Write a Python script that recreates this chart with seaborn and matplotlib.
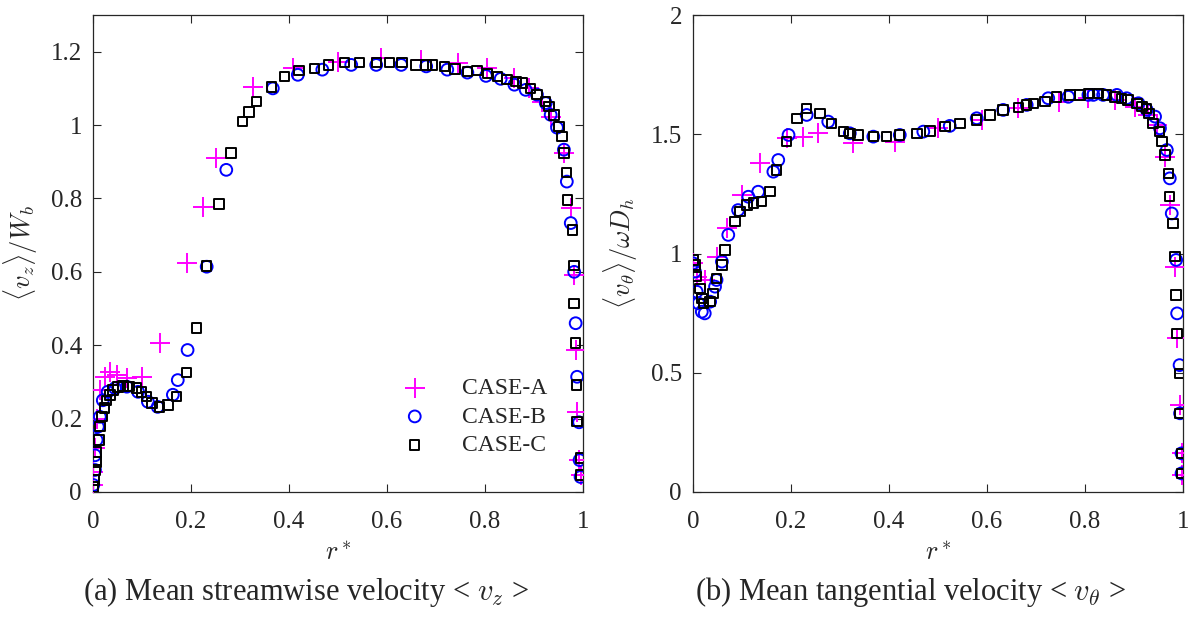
import numpy as np
import pandas as pd
import matplotlib
matplotlib.use('Agg')
import matplotlib.pyplot as plt
import seaborn as sns
from matplotlib.ticker import FuncFormatter

# ── data ──────────────────────────────────────────────────
cases = ['CASE-A', 'CASE-B', 'CASE-C']

# (a) streamwise velocity <v_z>/W_b
ra_z = [0.0, 0.0, 0.004, 0.0075, 0.014, 0.024, 0.035, 0.048, 0.069, 0.099, 0.137, 0.191, 0.225,
        0.252, 0.326, 0.408, 0.50, 0.588, 0.669, 0.744, 0.805, 0.86, 0.89, 0.917, 0.935, 0.961,
        0.975, 0.982, 0.985, 0.988, 0.992, 0.995]
va_z = [0.019, 0.055, 0.12, 0.20, 0.278, 0.314, 0.327, 0.319, 0.31, 0.314, 0.406, 0.624, 0.778,
        0.91, 1.104, 1.156, 1.173, 1.183, 1.178, 1.17, 1.156, 1.128, 1.10, 1.064, 1.023, 0.924,
        0.774, 0.592, 0.387, 0.218, 0.087, 0.046]

rb_z = [0.0006, 0.004, 0.004, 0.0075, 0.01, 0.014, 0.02, 0.03, 0.045, 0.069, 0.092, 0.112, 0.132,
        0.163, 0.173, 0.193, 0.232, 0.272, 0.367, 0.418, 0.468, 0.527, 0.578, 0.629, 0.68, 0.723,
        0.764, 0.802, 0.832, 0.86, 0.883, 0.906, 0.924, 0.934, 0.947, 0.961, 0.967, 0.975, 0.982,
        0.985, 0.988, 0.992, 0.993, 0.995]
vb_z = [0.019, 0.06, 0.10, 0.142, 0.178, 0.205, 0.25, 0.273, 0.283, 0.287, 0.273, 0.246, 0.232,
        0.265, 0.305, 0.387, 0.614, 0.878, 1.10, 1.137, 1.151, 1.164, 1.164, 1.164, 1.16, 1.151,
        1.143, 1.134, 1.126, 1.11, 1.096, 1.083, 1.06, 1.028, 0.993, 0.933, 0.846, 0.733, 0.60,
        0.46, 0.314, 0.19, 0.087, 0.041]

rc_z = [0.0, 0.002, 0.004, 0.006, 0.0075, 0.012, 0.014, 0.018, 0.024, 0.028, 0.035, 0.041, 0.051,
        0.061, 0.075, 0.089, 0.099, 0.109, 0.12, 0.136, 0.153, 0.17, 0.191, 0.211, 0.232, 0.257,
        0.282, 0.305, 0.318, 0.334, 0.364, 0.391, 0.42, 0.452, 0.481, 0.513, 0.544, 0.578, 0.605,
        0.631, 0.659, 0.68, 0.693, 0.717, 0.739, 0.764, 0.784, 0.805, 0.825, 0.845, 0.863, 0.876,
        0.893, 0.906, 0.924, 0.931, 0.941, 0.951, 0.957, 0.961, 0.966, 0.968, 0.978, 0.982, 0.982,
        0.985, 0.987, 0.988, 0.995, 0.995]
vc_z = [0.014, 0.033, 0.06, 0.082, 0.109, 0.142, 0.178, 0.205, 0.229, 0.25, 0.264, 0.278, 0.286,
        0.289, 0.287, 0.283, 0.273, 0.26, 0.243, 0.232, 0.237, 0.26, 0.325, 0.447, 0.616, 0.785,
        0.924, 1.009, 1.036, 1.064, 1.104, 1.132, 1.148, 1.154, 1.164, 1.17, 1.17, 1.17, 1.171,
        1.171, 1.164, 1.164, 1.164, 1.16, 1.153, 1.146, 1.149, 1.14, 1.133, 1.124, 1.119, 1.115,
        1.10, 1.083, 1.064, 1.051, 1.028, 0.996, 0.969, 0.924, 0.87, 0.796, 0.714, 0.617, 0.513,
        0.406, 0.292, 0.192, 0.093, 0.046]

# (b) tangential velocity <v_theta>/(omega D_h)
ra_t = [0.0, 0.0075, 0.024, 0.048, 0.069, 0.099, 0.137, 0.191, 0.225, 0.256, 0.327, 0.412, 0.50,
        0.589, 0.664, 0.746, 0.807, 0.861, 0.902, 0.929, 0.946, 0.963, 0.973, 0.984, 0.987, 0.993,
        0.997, 0.997]
va_t = [0.959, 0.903, 0.889, 0.987, 1.106, 1.245, 1.378, 1.483, 1.49, 1.504, 1.462, 1.469, 1.525,
        1.56, 1.609, 1.637, 1.651, 1.644, 1.616, 1.581, 1.539, 1.406, 1.203, 0.945, 0.644, 0.365,
        0.162, 0.071]

rb_t = [0.0, 0.004, 0.0075, 0.011, 0.018, 0.024, 0.035, 0.045, 0.048, 0.059, 0.072, 0.092, 0.113,
        0.133, 0.164, 0.174, 0.195, 0.232, 0.276, 0.32, 0.368, 0.422, 0.47, 0.524, 0.579, 0.633,
        0.681, 0.725, 0.766, 0.807, 0.817, 0.837, 0.865, 0.885, 0.909, 0.926, 0.943, 0.953, 0.967,
        0.973, 0.977, 0.986, 0.988, 0.993, 0.994, 0.997, 0.997]
vb_t = [0.959, 0.924, 0.84, 0.791, 0.756, 0.749, 0.798, 0.861, 0.889, 0.966, 1.078, 1.182, 1.238,
        1.259, 1.343, 1.392, 1.497, 1.581, 1.553, 1.504, 1.49, 1.497, 1.511, 1.535, 1.567, 1.602,
        1.623, 1.651, 1.657, 1.665, 1.665, 1.665, 1.665, 1.651, 1.63, 1.602, 1.574, 1.525, 1.434,
        1.315, 1.168, 0.973, 0.749, 0.532, 0.33, 0.162, 0.078]

rc_t = [0.0, 0.004, 0.0075, 0.014, 0.018, 0.021, 0.035, 0.041, 0.048, 0.059, 0.065, 0.086, 0.096,
        0.11, 0.123, 0.14, 0.157, 0.171, 0.191, 0.212, 0.232, 0.259, 0.283, 0.307, 0.32, 0.337,
        0.368, 0.395, 0.422, 0.457, 0.484, 0.514, 0.545, 0.579, 0.606, 0.633, 0.664, 0.681, 0.695,
        0.718, 0.742, 0.769, 0.79, 0.807, 0.827, 0.844, 0.861, 0.875, 0.888, 0.906, 0.916, 0.926,
        0.931, 0.939, 0.952, 0.957, 0.963, 0.97, 0.973, 0.98, 0.984, 0.986, 0.988, 0.993, 0.993,
        0.997, 0.997]
vc_t = [0.973, 0.952, 0.903, 0.854, 0.812, 0.791, 0.798, 0.833, 0.896, 0.952, 1.015, 1.133, 1.175,
        1.203, 1.211, 1.217, 1.259, 1.35, 1.469, 1.567, 1.609, 1.588, 1.546, 1.511, 1.504, 1.497,
        1.49, 1.49, 1.497, 1.504, 1.514, 1.532, 1.546, 1.56, 1.581, 1.602, 1.613, 1.623, 1.63,
        1.637, 1.657, 1.665, 1.665, 1.672, 1.672, 1.665, 1.657, 1.651, 1.644, 1.63, 1.616, 1.609,
        1.588, 1.546, 1.511, 1.469, 1.413, 1.336, 1.238, 1.127, 0.987, 0.826, 0.665, 0.498, 0.33,
        0.162, 0.078]

x_ticks = [0, 0.2, 0.4, 0.6, 0.8, 1]
yticks_z = [0, 0.2, 0.4, 0.6, 0.8, 1, 1.2]
yticks_t = [0, 0.5, 1, 1.5, 2]

# ── styling ───────────────────────────────────────────────
sns.set_theme(style='ticks')
plt.rcParams['font.family'] = ['Liberation Serif', 'DejaVu Serif']
plt.rcParams['mathtext.fontset'] = 'cm'
axcol = '#262626'

colors = {'CASE-A': '#ff00ff', 'CASE-B': '#0000ff', 'CASE-C': '#000000'}
markers = {'CASE-A': '+', 'CASE-B': 'o', 'CASE-C': 's'}
sizes = {'CASE-A': 190, 'CASE-B': 72, 'CASE-C': 46}


def long_df(pairs):
    frames = []
    for case, (r, v) in zip(cases, pairs):
        frames.append(pd.DataFrame({'r': r, 'v': v, 'case': case}))
    return pd.concat(frames, ignore_index=True)


df_z = long_df([(ra_z, va_z), (rb_z, vb_z), (rc_z, vc_z)])
df_t = long_df([(ra_t, va_t), (rb_t, vb_t), (rc_t, vc_t)])

fig = plt.figure(figsize=(11.93, 6.21), dpi=100)
W, H = 1193, 621
ax1 = fig.add_axes([93 / W, 129 / H, 490 / W, 477 / H])
ax2 = fig.add_axes([693 / W, 129 / H, 490 / W, 477 / H])

fmt = FuncFormatter(lambda v, p: f'{v:g}')

for ax, df, yt, ylim, ylab in [
        (ax1, df_z, yticks_z, 1.3, r'$\langle v_z \rangle / W_b$'),
        (ax2, df_t, yticks_t, 2.0, r'$\langle v_\theta \rangle / \omega D_h$')]:
    for case in cases:
        sub = df[df['case'] == case]
        mk = markers[case]
        kw = dict(facecolor='none') if mk != '+' else {}
        sns.scatterplot(data=sub, x='r', y='v', ax=ax, marker=mk, s=sizes[case],
                        color=colors[case], edgecolor=colors[case], linewidth=1.4,
                        label=case, legend=False, zorder=3, **kw)
    ax.set_xlim(0, 1)
    ax.set_ylim(0, ylim)
    ax.set_xticks(x_ticks)
    ax.set_yticks(yt)
    ax.xaxis.set_major_formatter(fmt)
    ax.yaxis.set_major_formatter(fmt)
    ax.tick_params(direction='in', top=True, right=True, length=6, width=0.8,
                   labelsize=18, colors=axcol, labelcolor=axcol)
    ax.tick_params(axis='x', pad=14)
    ax.tick_params(axis='y', pad=8)
    for sp in ax.spines.values():
        sp.set_visible(True)
        sp.set_color(axcol)
        sp.set_linewidth(0.9)
    ax.set_xlabel(r'$r^*$', fontsize=19, color=axcol, labelpad=6)
    ax.set_ylabel(ylab, fontsize=19, color=axcol, labelpad=8)

leg = ax1.legend(loc='lower right', bbox_to_anchor=(0.927, 0.075), frameon=False,
                 fontsize=17, handlelength=2.0, handletextpad=1.0, labelspacing=0.3,
                 borderpad=0, borderaxespad=0)

fig.text(306 / W, 1 - 592 / H, r'(a) Mean streamwise velocity < $v_z$ >',
         ha='center', va='center', fontsize=22)
fig.text(910 / W, 1 - 592 / H, r'(b) Mean tangential velocity < $v_\theta$ >',
         ha='center', va='center', fontsize=22)

fig.savefig('out.png', dpi=100)
